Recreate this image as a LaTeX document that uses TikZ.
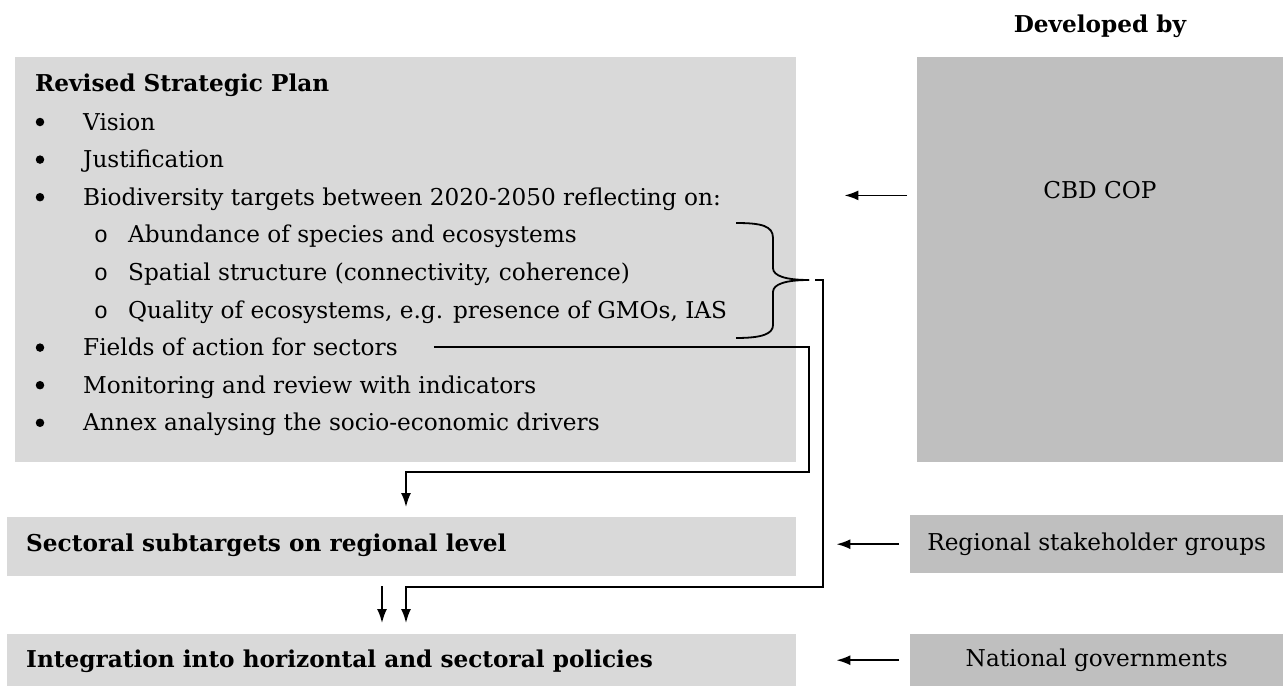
\documentclass[tikz,border=0pt]{standalone}
\usepackage{fontspec}
\setmainfont{DejaVu Serif}
\newfontfamily\subbulletfont{Liberation Mono}
\usetikzlibrary{arrows.meta}

\definecolor{planfill}{HTML}{D9D9D9}
\definecolor{actorfill}{HTML}{BFBFBF}

\tikzset{
  lightbox/.style={fill=planfill, inner sep=0pt, anchor=north west},
  actorbox/.style={fill=actorfill, inner sep=0pt, anchor=north west,
    font=\fontsize{23.2}{28}\selectfont},
  txt/.style={inner sep=0pt, anchor=base west, font=\fontsize{23.2}{28}\selectfont},
  btxt/.style={txt, font=\fontsize{23.2}{28}\selectfont\bfseries},
  dot/.style={circle, fill, inner sep=0pt, minimum size=8.5pt},
  arr/.style={-{Latex[length=14pt,width=10pt]}, line width=1.8pt},
  link/.style={line width=1.8pt}
}

\begin{document}
\begin{tikzpicture}[x=1pt, y=-1pt]

\useasboundingbox (0,0) rectangle (1283,688);

% ---------- Pola (plan i poziomy) ----------
\node[lightbox, minimum width=781pt, minimum height=405pt] (plan) at (15,57) {};
\node[lightbox, minimum width=789pt, minimum height=59pt] (sector) at (7,517) {};
\node[lightbox, minimum width=789pt, minimum height=52pt] (policy) at (7,634) {};

% ---------- Pola (autorzy) ----------
\node[actorbox, minimum width=366pt, minimum height=405pt] (cbd) at (917,57) {};
\node[actorbox, minimum width=373pt, minimum height=58pt] (regional) at (910,515) {Regional stakeholder groups};
\node[actorbox, minimum width=373pt, minimum height=52pt] (national) at (910,634) {National governments};

% ---------- Teksty ----------
\node[btxt, anchor=base] (devby) at (1100,32) {Developed by};
\node[txt, anchor=base] (cbdname) at (1100,198) {CBD COP};
\node[btxt] (title) at (35,91) {Revised Strategic Plan};
\node[btxt] (sectortext) at (26,551) {Sectoral subtargets on regional level};
\node[btxt] (policytext) at (26,667) {Integration into horizontal and sectoral policies};

% Punkty glowne: wiersz n ma linie bazowa 130 + 37.6(n-1)
\foreach \n/\name/\txt in {1/vision/Vision, 2/justif/Justification,
    3/targets/{Biodiversity targets between 2020-2050 reflecting on:},
    7/fields/Fields of action for sectors,
    8/monitor/Monitoring and review with indicators,
    9/annex/Annex analysing the socio-economic drivers} {
  \node[dot] (\name-dot) at (40,{122+37.6*(\n-1)}) {};
  \node[txt] (\name) at (83,{130+37.6*(\n-1)}) {\txt};
}
% Podpunkty
\foreach \n/\name/\txt in {4/abund/Abundance of species and ecosystems,
    5/spatial/{Spatial structure (connectivity, coherence)},
    6/quality/{Quality of ecosystems, e.g. presence of GMOs, IAS}} {
  \node[txt, anchor=base] (\name-dot) at (101,{130+37.6*(\n-1)}) {\subbulletfont o};
  \node[txt] (\name) at (128,{130+37.6*(\n-1)}) {\txt};
}

% ---------- Klamra ----------
\draw[link] (736,223) .. controls (762,223) and (773,226) .. (773,238)
  -- (773,268) .. controls (773,276) and (786,280) .. (809,280) coordinate (bracetip);
\draw[link] (bracetip) .. controls (786,280) and (773,284) .. (773,292)
  -- (773,325) .. controls (773,334) and (762,338) .. (736,338);

% ---------- Polaczenia ----------
\coordinate (busA) at (809,472);
\coordinate (busB) at (823,587);
\coordinate (tipA) at (406,507);
\coordinate (tipB) at (406,623);
\coordinate (tipC) at (382,623);

\draw[arr] ([xshift=36pt]fields.east) -| (busA) -| (tipA);
\draw[arr] ([xshift=6pt]bracetip) -| (busB) -| (tipB);
\draw[arr, shorten <=10pt] (sector.south -| tipC) -- (tipC);

\draw[arr] ([xshift=-10pt]cbd.west |- cbdname.mid) -- ([xshift=48pt]plan.east |- cbdname.mid);
\draw[arr] ([xshift=-11pt]regional.west) -- ([xshift=40pt]sector.east |- regional.west);
\draw[arr] ([xshift=-11pt]national.west) -- ([xshift=40pt]policy.east |- national.west);

\end{tikzpicture}
\end{document}
